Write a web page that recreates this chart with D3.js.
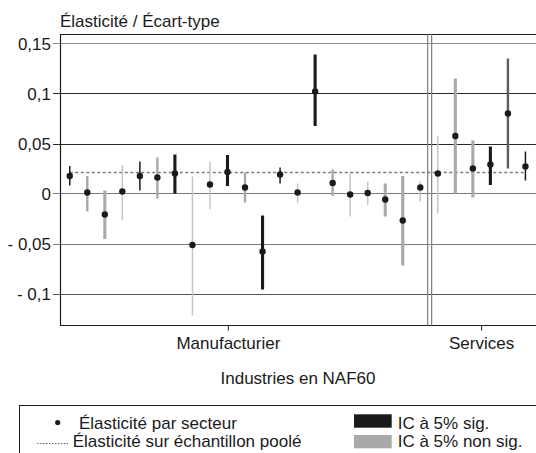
<!DOCTYPE html>
<html><head><meta charset="utf-8">
<script src="https://cdn.jsdelivr.net/npm/d3@7"></script>
<style>
body{margin:0;background:#fff;}
text{font-family:Arial,"Liberation Sans",Helvetica,sans-serif;fill:#1a1a1a;}
</style></head>
<body><svg id="c" width="536" height="453"></svg>
<script>
// ---- data ----
const categories = d3.range(1, 28).map(i => "S" + i);
const groups = [
  "Manufacturier","Manufacturier","Manufacturier","Manufacturier","Manufacturier","Manufacturier","Manufacturier",
  "Manufacturier","Manufacturier","Manufacturier","Manufacturier","Manufacturier","Manufacturier","Manufacturier",
  "Manufacturier","Manufacturier","Manufacturier","Manufacturier","Manufacturier","Manufacturier","Manufacturier",
  "Services","Services","Services","Services","Services","Services"];
const elasticity = [0.0175, 0.001, -0.021, 0.002, 0.0175, 0.016, 0.020, -0.0515, 0.009, 0.0215, 0.006, -0.058, 0.019, 0.001,
  0.102, 0.0105, -0.001, 0.0005, -0.006, -0.027, 0.006, 0.020, 0.0575, 0.025, 0.029, 0.080, 0.027];
const ciLow = [0.008, -0.018, -0.0455, -0.0265, 0.003, -0.005, 0.0, -0.122, -0.0155, 0.0075, -0.009, -0.096, 0.010, -0.009,
  0.0675, -0.0025, -0.023, -0.0115, -0.023, -0.072, -0.008, -0.020, 0.0, -0.004, 0.0085, 0.025, 0.013];
const ciHigh = [0.0275, 0.0175, 0.003, 0.0285, 0.032, 0.036, 0.039, 0.017, 0.032, 0.0385, 0.021, -0.022, 0.026, 0.010,
  0.139, 0.024, 0.020, 0.012, 0.010, 0.0175, 0.012, 0.0575, 0.115, 0.053, 0.047, 0.135, 0.042];
// 1 = significant at 5%, 0 = not significant, 2 = significant (drawn in dark grey)
const significance = [1,0,0,0,1,0,1,0,0,1,0,1,1,0,1,0,0,0,0,0,0,0,0,0,1,2,1];
// weight class of the sector (thickness of the interval)
const weightClass = [1,2,3,1,1,2,3,1,1,3,2,3,1,1,3,2,1,1,3,3,1,1,3,3,3,2,1];
const pooledElasticity = 0.021;
const yTicks = [0.15, 0.1, 0.05, 0, -0.05, -0.1];
const groupNames = ["Manufacturier", "Services"];
const groupTickAt = [9.05, 23.5];

// ---- drawing ----
const svg = d3.select("#c");
const L = 60, T = 34, R = 536, B = 325.5;
const fmt = v => v === 0 ? "0" : (v < 0 ? "- " : "") + String(Math.abs(v)).replace(".", ",");

const x = d3.scaleBand().domain(categories).range([61, 534.2]).padding(0);
const cx = c => x(c) + x.bandwidth() / 2;
const y = d3.scaleLinear().domain([-0.132, 0.1595]).range([B, T]);
const xIdx = d3.scaleLinear().domain([0, categories.length - 1]).range([cx(categories[0]), cx(categories[categories.length - 1])]);

// gridlines + y ticks
const gridCol = {"0.15": "#8a8a8a", "0.1": "#2a2a2a", "0.05": "#2a2a2a", "0": "#7a7a7a", "-0.05": "#7a7a7a", "-0.1": "#555"};
svg.append("g").selectAll("line").data(yTicks).join("line")
  .attr("x1", 53).attr("x2", R)
  .attr("y1", d => Math.round(y(d)) + 0.5).attr("y2", d => Math.round(y(d)) + 0.5)
  .attr("stroke", d => gridCol[String(d)] || "#555").attr("stroke-width", 1.1);
svg.append("g").selectAll("text").data(yTicks).join("text")
  .attr("x", 51).attr("y", d => y(d)).attr("dy", "0.36em")
  .attr("text-anchor", "end").attr("font-size", 17).text(fmt);

// frame
svg.append("line").attr("x1", L).attr("x2", R).attr("y1", T + 0.5).attr("y2", T + 0.5).attr("stroke", "#1a1a1a").attr("stroke-width", 1.2);
svg.append("line").attr("x1", L).attr("x2", R).attr("y1", B).attr("y2", B).attr("stroke", "#1a1a1a").attr("stroke-width", 1.2);
svg.append("line").attr("x1", L + 0.5).attr("x2", L + 0.5).attr("y1", T).attr("y2", B + 0.5).attr("stroke", "#1a1a1a").attr("stroke-width", 1.2);

// separator between groups
const firstServ = groups.indexOf("Services");
const sepX = x(categories[firstServ]);
[sepX - 1.4, sepX + 2.6].forEach(xx => {
  svg.append("line").attr("x1", xx).attr("x2", xx).attr("y1", T).attr("y2", B)
    .attr("stroke", "#808080").attr("stroke-width", 1.2);
});

// group ticks and labels
groupNames.forEach((g, i) => {
  const gx = xIdx(groupTickAt[i]);
  svg.append("line").attr("x1", gx).attr("x2", gx).attr("y1", B).attr("y2", B + 5).attr("stroke", "#1a1a1a");
  svg.append("text").attr("x", gx).attr("y", 349).attr("text-anchor", "middle").attr("font-size", 17).text(g);
});
svg.append("text").attr("x", 298).attr("y", 383.5).attr("text-anchor", "middle").attr("font-size", 17).text("Industries en NAF60");
svg.append("text").attr("x", 60).attr("y", 27).attr("font-size", 17).text("Élasticité / Écart-type");

// pooled elasticity line
svg.append("line")
  .attr("x1", cx(categories[0])).attr("x2", cx(categories[categories.length - 1]))
  .attr("y1", y(pooledElasticity)).attr("y2", y(pooledElasticity))
  .attr("stroke", "#7a7a7a").attr("stroke-width", 1.5).attr("stroke-dasharray", "3,2.5");

// intervals
const widthOf = w => ({1: 1.5, 2: 2.4, 3: 3.1})[w];
const colorOf = (s, w) => s === 1 ? "#1a1a1a" : s === 2 ? "#5e5e5e" : (w === 1 ? "#c4c4c4" : "#a9a9a9");
const rows = categories.map((c, i) => ({c, v: elasticity[i], lo: ciLow[i], hi: ciHigh[i], s: significance[i], w: weightClass[i]}));
svg.append("g").selectAll("line").data(rows).join("line")
  .attr("x1", d => cx(d.c)).attr("x2", d => cx(d.c))
  .attr("y1", d => y(d.hi)).attr("y2", d => y(d.lo))
  .attr("stroke", d => colorOf(d.s, d.w)).attr("stroke-width", d => widthOf(d.w));
svg.append("g").selectAll("circle").data(rows).join("circle")
  .attr("cx", d => cx(d.c)).attr("cy", d => y(d.v)).attr("r", 3.2).attr("fill", "#1a1a1a");

// legend
svg.append("rect").attr("x", 19.5).attr("y", 405.5).attr("width", 600).attr("height", 100)
  .attr("fill", "none").attr("stroke", "#1a1a1a").attr("stroke-width", 1);
svg.append("circle").attr("cx", 57.7).attr("cy", 422.5).attr("r", 2.6).attr("fill", "#1a1a1a");
svg.append("text").attr("x", 79).attr("y", 429.3).attr("font-size", 17).text("Élasticité par secteur");
svg.append("line").attr("x1", 37).attr("x2", 68).attr("y1", 443.5).attr("y2", 443.5)
  .attr("stroke", "#666").attr("stroke-width", 1).attr("stroke-dasharray", "1.5,1.5");
svg.append("text").attr("x", 72.7).attr("y", 446.7).attr("font-size", 17).text("Élasticité sur échantillon poolé");
svg.append("rect").attr("x", 354).attr("y", 414.3).attr("width", 37.7).attr("height", 13.4).attr("fill", "#1a1a1a");
svg.append("text").attr("x", 397.7).attr("y", 429.3).attr("font-size", 17).text("IC à 5% sig.");
svg.append("rect").attr("x", 354).attr("y", 435).attr("width", 37.7).attr("height", 13.3).attr("fill", "#a9a9a9");
svg.append("text").attr("x", 397.7).attr("y", 446.7).attr("font-size", 17).text("IC à 5% non sig.");
</script></body></html>
